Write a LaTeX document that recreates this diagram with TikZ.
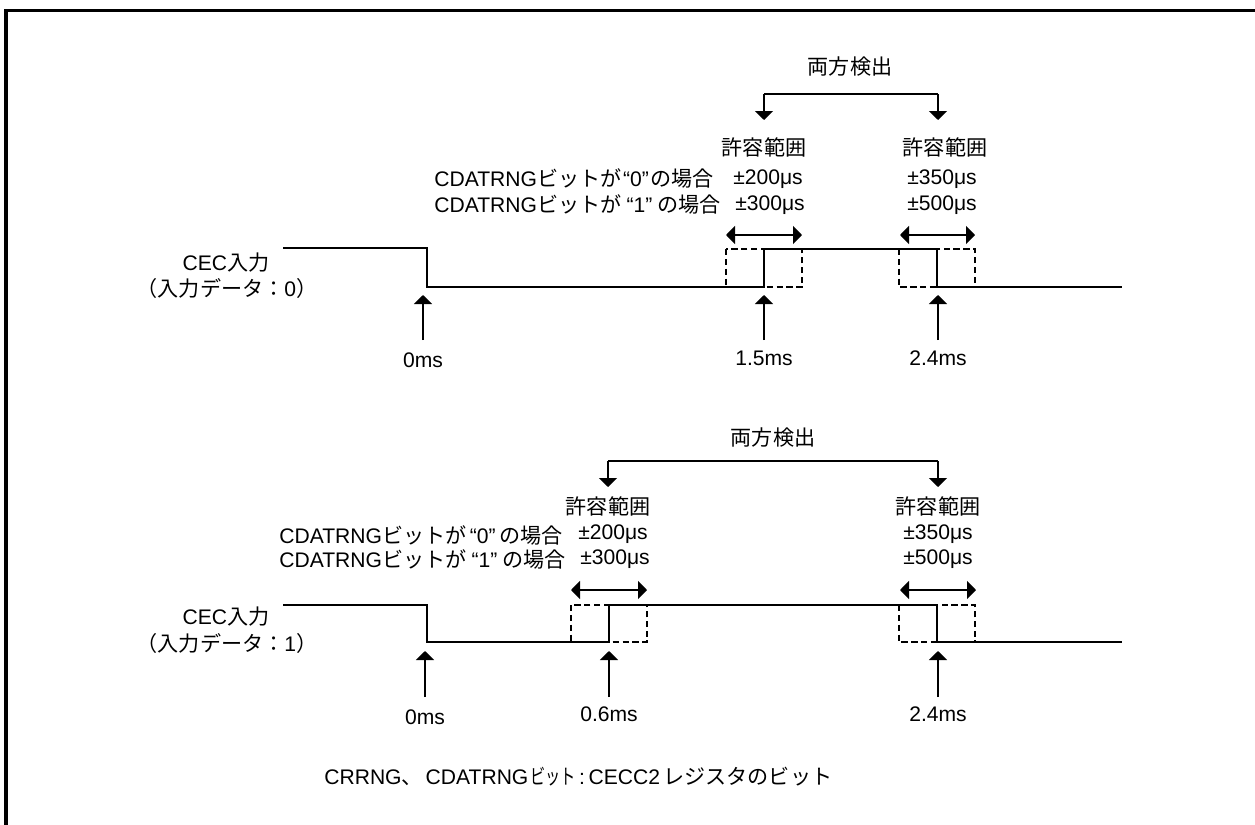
\documentclass[tikz,border=0pt]{standalone}
\usepackage{fontspec}
\setmainfont{Liberation Sans}
\newfontfamily\cjk{Noto Sans CJK JP}
\usepackage{graphicx}
\usepackage{tikz}
\usetikzlibrary{arrows.meta,positioning,calc}
\newcommand{\jp}[1]{{\cjk #1}}
\newcommand{\bitcase}[2]{CDATRNG\jp{ビットが}\kern#2“#1”\kern#2\jp{の場合}}

\begin{document}
\begin{tikzpicture}[x=0.02cm,y=-0.02cm,>={Triangle[length=0.18cm,width=0.36cm]},
  every node/.style={font=\fontsize{12}{14}\selectfont,inner sep=0pt},
  signal/.style={line width=1.1pt},
  window/.style={line width=1.5pt,dash pattern=on 3.6pt off 2pt},
  marker/.style={->,line width=0.9pt},
  span/.style={<->,line width=1.1pt}]
  \useasboundingbox (0,0) rectangle (1255,825);

  % 外枠
  \draw[line width=1.8pt] (6,825) -- (6,10.5) -- (1255,10.5);

  % 上段: 入力データ 0
  \coordinate (a0) at (283,248);
  \coordinate (a1) at (427,248);
  \coordinate (a2) at (427,287);
  \coordinate (a3) at (764,287);
  \coordinate (a4) at (764,249);
  \coordinate (a5) at (937,249);
  \coordinate (a6) at (937,287);
  \coordinate (a7) at (1122,287);
  \draw[signal] (a0) -- (a1) -- (a2) -- (a3) -- (a4) -- (a5) -- (a6) -- (a7);

  % 許容範囲の枠
  \draw[window] (726,249) rectangle (802,287);
  \draw[window] (899,249) rectangle (975,287);
  \coordinate (ar1l) at (726,235);
  \coordinate (ar1r) at (802,235);
  \coordinate (ar2l) at (900,235);
  \coordinate (ar2r) at (975,235);
  \draw[span] (ar1l) -- (ar1r);
  \draw[span] (ar2l) -- (ar2r);

  % 両方検出
  \node (atitle) at (850,67) {\jp{両方検出}};
  \coordinate (ab1) at (764,94);
  \coordinate (ab2) at (938,94);
  \coordinate (abt1) at (764,120);
  \coordinate (abt2) at (938,120);
  \draw[marker] (ab1) -- (abt1);
  \draw[marker] (ab2) -- (abt2);
  \draw[line width=0.9pt] (ab1) -- (ab2);

  % 許容値
  \node (ak1) at (764,147) {\jp{許容範囲}};
  \node (ak2) at (945,147) {\jp{許容範囲}};
  \node[anchor=west] (ac0) at (434,178) {\bitcase{0}{1pt}};
  \node[anchor=west] (ac1) at (434,204) {\bitcase{1}{3pt}};
  \node (av0) at (768,179) {±200μs};
  \node (av1) at (770,205) {±300μs};
  \node (aw0) at (942,179) {±350μs};
  \node (aw1) at (942,205) {±500μs};

  % 信号名
  \node (acec) at (226,263) {CEC\jp{入力}};
  \node (adat) at (227,288) {\jp{（入力データ：}0\jp{）}};

  % 時刻
  \node (at0) at (423,360) {0ms};
  \node (at1) at (764,358) {1.5ms};
  \node (at2) at (938,358) {2.4ms};
  \coordinate (ap0) at (423,295);
  \coordinate (ap1) at (764,295);
  \coordinate (ap2) at (938,295);
  \coordinate (aq0) at (423,340);
  \coordinate (aq1) at (764,340);
  \coordinate (aq2) at (938,340);
  \draw[marker] (aq0) -- (ap0);
  \draw[marker] (aq1) -- (ap1);
  \draw[marker] (aq2) -- (ap2);

  % 下段: 入力データ 1
  \coordinate (b0) at (283,605);
  \coordinate (b1) at (427,605);
  \coordinate (b2) at (427,642);
  \coordinate (b3) at (609,642);
  \coordinate (b4) at (609,605);
  \coordinate (b5) at (937,605);
  \coordinate (b6) at (937,642);
  \coordinate (b7) at (1122,642);
  \draw[signal] (b0) -- (b1) -- (b2) -- (b3) -- (b4) -- (b5) -- (b6) -- (b7);

  % 許容範囲の枠
  \draw[window] (571,605) rectangle (647,642);
  \draw[window] (899,605) rectangle (975,642);
  \coordinate (br1l) at (571,590);
  \coordinate (br1r) at (647,590);
  \coordinate (br2l) at (900,590);
  \coordinate (br2r) at (976,590);
  \draw[span] (br1l) -- (br1r);
  \draw[span] (br2l) -- (br2r);

  % 両方検出
  \node (btitle) at (773,438) {\jp{両方検出}};
  \coordinate (bb1) at (608,461);
  \coordinate (bb2) at (938,461);
  \coordinate (bbt1) at (608,487);
  \coordinate (bbt2) at (938,487);
  \draw[marker] (bb1) -- (bbt1);
  \draw[marker] (bb2) -- (bbt2);
  \draw[line width=0.9pt] (bb1) -- (bb2);

  % 許容値
  \node (bk1) at (608,506) {\jp{許容範囲}};
  \node (bk2) at (938,506) {\jp{許容範囲}};
  \node[anchor=west] (bc0) at (279,535) {\bitcase{0}{2pt}};
  \node[anchor=west] (bc1) at (279,559) {\bitcase{1}{3pt}};
  \node (bv0) at (613,534) {±200μs};
  \node (bv1) at (615,559) {±300μs};
  \node (bw0) at (938,534) {±350μs};
  \node (bw1) at (938,559) {±500μs};

  % 信号名
  \node (bcec) at (226,617) {CEC\jp{入力}};
  \node (bdat) at (227,643) {\jp{（入力データ：}1\jp{）}};

  % 時刻
  \node (bt0) at (425,717) {0ms};
  \node (bt1) at (609,714) {0.6ms};
  \node (bt2) at (938,714) {2.4ms};
  \coordinate (bp0) at (425,651);
  \coordinate (bp1) at (609,651);
  \coordinate (bp2) at (938,651);
  \coordinate (bq0) at (425,697);
  \coordinate (bq1) at (609,697);
  \coordinate (bq2) at (938,697);
  \draw[marker] (bq0) -- (bp0);
  \draw[marker] (bq1) -- (bp1);
  \draw[marker] (bq2) -- (bp2);

  % 注記
  \node[anchor=west] (note) at (324,777) {CRRNG\jp{、}\kern1.7pt CDATRNG\kern1pt\scalebox{0.72}[1]{\jp{ビット}}\kern2pt:\kern2pt CECC2\kern2pt\jp{レジスタのビット}};
\end{tikzpicture}
\end{document}
